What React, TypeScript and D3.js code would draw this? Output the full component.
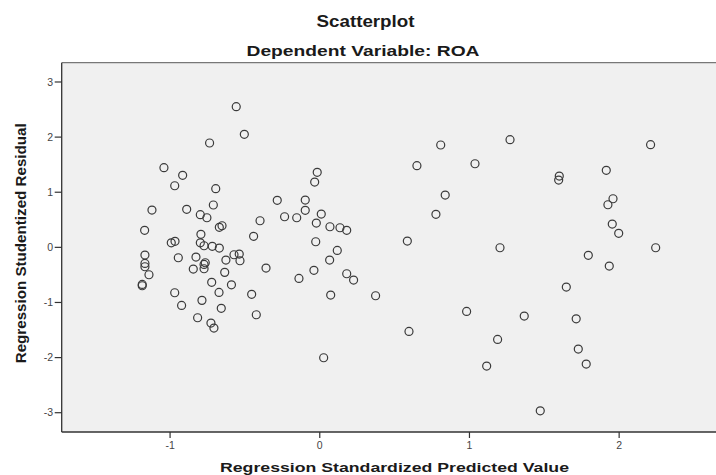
import React from 'react';
import * as d3 from 'd3';

// Regression Standardized Predicted Value (x) / Regression Studentized Residual (y)
const predictedValues = [
  -0.736, -1.041, -0.916, -0.969, -0.695, -1.121, -0.889, -0.711, -0.798, -0.754,
  -0.653, -0.671, -1.170, -0.794, -0.992, -0.967, -0.798, -0.773, -0.718, -0.671,
  -1.168, -1.168, -1.168, -1.141, -1.186, -1.186, -0.945, -0.827, -0.765, -0.773,
  -0.845, -0.773, -0.627, -0.635, -0.722, -0.590, -0.969, -0.673, -0.787, -0.923,
  -0.658, -0.816, -0.727, -0.707, -0.558, -0.504, -0.017, -0.034, -0.284, -0.097,
  -0.097, -0.235, -0.154, 0.010, -0.399, -0.023, 0.068, 0.135, 0.180, -0.442,
  -0.027, 0.117, -0.573, -0.538, -0.533, -0.359, -0.455, -0.424, -0.139, -0.039,
  0.066, 0.180, 0.226, 0.073, 0.373, 0.026, 0.808, 1.271, 0.649, 1.037,
  0.838, 0.776, 0.585, 1.204, 0.981, 1.366, 0.596, 1.188, 1.115, 1.473,
  2.210, 1.914, 1.600, 1.596, 1.959, 1.925, 1.954, 1.997, 2.244, 1.794,
  1.934, 1.647, 1.713, 1.727, 1.780,
];

const studentizedResiduals = [
  1.893, 1.445, 1.307, 1.118, 1.064, 0.677, 0.690, 0.768, 0.592, 0.537,
  0.392, 0.363, 0.309, 0.236, 0.083, 0.109, 0.083, 0.029, 0.018, -0.013,
  -0.140, -0.291, -0.352, -0.497, -0.672, -0.697, -0.189, -0.176, -0.279, -0.309,
  -0.394, -0.388, -0.230, -0.454, -0.635, -0.680, -0.824, -0.817, -0.962, -1.053,
  -1.107, -1.277, -1.374, -1.465, 2.552, 2.051, 1.361, 1.185, 0.853, 0.858,
  0.671, 0.555, 0.537, 0.604, 0.483, 0.441, 0.374, 0.356, 0.309, 0.200,
  0.102, -0.055, -0.134, -0.122, -0.243, -0.376, -0.853, -1.223, -0.563, -0.417,
  -0.230, -0.479, -0.593, -0.866, -0.878, -2.003, 1.857, 1.953, 1.481, 1.517,
  0.949, 0.599, 0.114, -0.007, -1.162, -1.247, -1.525, -1.670, -2.154, -2.965,
  1.862, 1.397, 1.294, 1.221, 0.882, 0.773, 0.423, 0.254, -0.007, -0.145,
  -0.339, -0.720, -1.296, -1.846, -2.118,
];

const xTicks = [-1, 0, 1, 2];
const yTicks = [3, 2, 1, 0, -1, -2, -3];

const chartTitle = 'Scatterplot';
const chartSubtitle = 'Dependent Variable: ROA';
const xTitle = 'Regression Standardized Predicted Value';
const yTitle = 'Regression Studentized Residual';

const W = 716;
const H = 475;
const plot = { left: 61.7, top: 62.7, right: 716, bottom: 432 };
const font = '"Liberation Sans", Arial, sans-serif';

export default function App() {
  const x = d3.scaleLinear().domain([-1.724, 2.647]).range([plot.left, plot.right]);
  const y = d3.scaleLinear().domain([-3.35, 3.35]).range([plot.bottom, plot.top]);

  const points = predictedValues.map((v, i) => ({ px: v, res: studentizedResiduals[i] }));

  return (
    <div style={{ position: 'absolute', left: 0, top: 0 }}>
      <svg width={W} height={H} style={{ display: 'block', background: '#fff' }} fontFamily={font}>
        <text x={365.5} y={27} textAnchor="middle" fontSize={16} fontWeight="bold" fill="#1a1a1a"
          textLength={98} lengthAdjust="spacingAndGlyphs">{chartTitle}</text>
        <text x={363} y={56} textAnchor="middle" fontSize={15} fontWeight="bold" fill="#1a1a1a"
          textLength={233} lengthAdjust="spacingAndGlyphs">{chartSubtitle}</text>

        <rect x={plot.left} y={plot.top} width={plot.right - plot.left + 10}
          height={plot.bottom - plot.top} fill="#f0f0f0" />
        <line x1={plot.left} x2={W} y1={plot.top} y2={plot.top} stroke="#777" strokeWidth={1.3} />

        {points.map((d, i) => (
          <circle key={`pt-${i}`} cx={x(d.px)} cy={y(d.res)} r={4}
            fill="none" stroke="#3a3a3a" strokeWidth={1.2} />
        ))}

        {/* y axis */}
        <line x1={plot.left} x2={plot.left} y1={plot.top} y2={plot.bottom} stroke="#333" strokeWidth={1.3} />
        {yTicks.map((t) => (
          <g key={`yt-${t}`} transform={`translate(${plot.left},${y(t)})`}>
            <line x1={-7} x2={0} stroke="#333" strokeWidth={1.2} />
            <text x={-8.5} dy="0.35em" textAnchor="end" fontSize={10.5} fill="#444">{t}</text>
          </g>
        ))}

        {/* x axis */}
        <line x1={plot.left} x2={W} y1={plot.bottom} y2={plot.bottom} stroke="#333" strokeWidth={1.3} />
        {xTicks.map((t) => (
          <g key={`xt-${t}`} transform={`translate(${x(t)},${plot.bottom})`}>
            <line y1={0} y2={6} stroke="#333" strokeWidth={1.2} />
            <text y={17} textAnchor="middle" fontSize={10.5} fill="#444">{t}</text>
          </g>
        ))}

        <text x={394.5} y={472} textAnchor="middle" fontSize={13.5} fontWeight="bold" fill="#1a1a1a"
          textLength={349} lengthAdjust="spacingAndGlyphs">{xTitle}</text>
        <text transform={`translate(26,243.3) rotate(-90)`} textAnchor="middle" fontSize={14}
          fontWeight="bold" fill="#1a1a1a" textLength={240} lengthAdjust="spacingAndGlyphs">{yTitle}</text>
      </svg>
    </div>
  );
}
